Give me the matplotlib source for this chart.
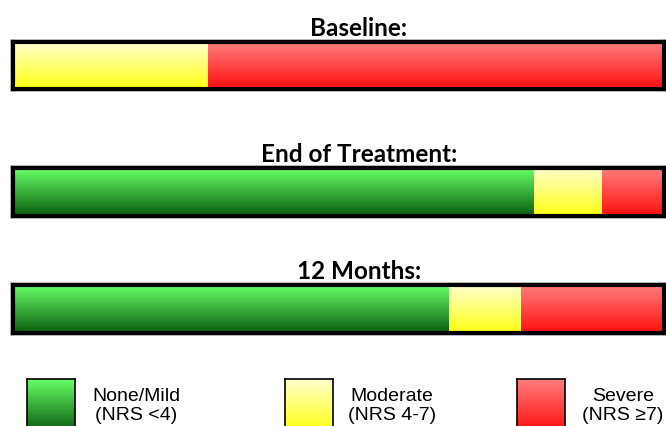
import numpy as np
import matplotlib
matplotlib.use("Agg")
import matplotlib.pyplot as plt
from matplotlib.patches import Rectangle

# data (percent of patients per pain category)
timepoints = ["Baseline:", "End of Treatment:", "12 Months:"]
none_mild = [0, 80, 67]
moderate = [30, 10.5, 11]
severe = [70, 9.5, 22]

categories = ["None/Mild\n(NRS <4)", "Moderate\n(NRS 4-7)", "Severe\n(NRS \u22657)"]
# gradient colours, top -> bottom
grad_top = ["#66ff66", "#ffffcc", "#ff7d7d"]
grad_bot = ["#0b5e10", "#ffff14", "#ff0f0f"]

W, H = 666, 427
fig = plt.figure(figsize=(W / 100, H / 100), dpi=100)


def px_axes(x0, y0, x1, y1):
    # pixel box (from top-left) -> figure axes
    return fig.add_axes([x0 / W, 1 - y1 / H, (x1 - x0) / W, (y1 - y0) / H])


def gradient(c_top, c_bot, n=64):
    t = np.linspace(0, 1, n)[:, None]
    a = np.array(matplotlib.colors.to_rgb(c_top))
    b = np.array(matplotlib.colors.to_rgb(c_bot))
    return (a * (1 - t) + b * t)[:, None, :]


def frame(ax, lw):
    ax.set_xticks([])
    ax.set_yticks([])
    for sp in ax.spines.values():
        sp.set_linewidth(lw)
        sp.set_color("black")


rows = [(43, 90), (169, 217), (286, 334)]
for i, (y0, y1) in enumerate(rows):
    # thin light grey shadow around the black frame
    g = 3.0
    fig.add_artist(Rectangle(((13 - g) / W, 1 - (y1 + g) / H), (651 + 2 * g) / W, (y1 - y0 + 2 * g) / H,
                             transform=fig.transFigure, facecolor="#c8c8c8", edgecolor="none",
                             zorder=-1))
    ax = px_axes(13, y0, 664, y1)
    vals = [none_mild[i], moderate[i], severe[i]]
    left = 0
    for k, v in enumerate(vals):
        if v > 0:
            ax.imshow(gradient(grad_top[k], grad_bot[k]), extent=[left, left + v, 0, 1],
                      aspect="auto", interpolation="bilinear")
        left += v
    ax.set_xlim(0, 100)
    ax.set_ylim(0, 1)
    frame(ax, 3.0)
    ax.set_title(timepoints[i], x=0.531, pad=5, fontsize=17.5, fontweight="bold",
                 family=["Lato", "DejaVu Sans"])

# legend
leg_x = [(27, 75), (285, 333), (517, 565)]
txt_x = [136, 392, 623]
for k, (x0, x1) in enumerate(leg_x):
    ax = px_axes(x0, 380, x1, 432)
    ax.imshow(gradient(grad_top[k], grad_bot[k]), extent=[0, 1, 0, 1],
              aspect="auto", interpolation="bilinear")
    ax.set_xlim(0, 1)
    ax.set_ylim(0, 1)
    frame(ax, 1.2)
    fig.text(txt_x[k] / W, 1 - 406 / H, categories[k], ha="center", va="center",
             fontsize=14, linespacing=1.2, family=["Liberation Sans", "DejaVu Sans"])

fig.savefig("out.png", dpi=100)
